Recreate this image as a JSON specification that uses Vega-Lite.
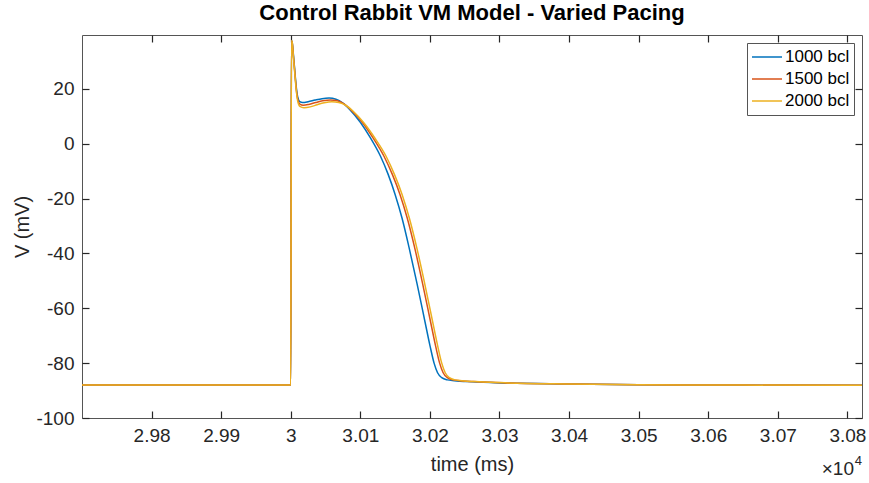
{
  "$schema": "https://vega.github.io/schema/vega-lite/v6.json",
  "width": 780,
  "height": 383,
  "autosize": {"type": "none"},
  "padding": {"left": 82, "top": 35, "right": 7, "bottom": 65},
  "background": "white",
  "config": {
    "font": "Liberation Sans",
    "view": {"stroke": "#555555", "strokeWidth": 1},
    "axis": {
      "grid": false,
      "domain": false,
      "ticks": true,
      "offset": -7,
      "tickColor": "#262626",
      "tickWidth": 1.2,
      "tickSize": 7,
      "labelPadding": 8,
      "labelColor": "#262626",
      "labelFontSize": 19,
      "titleColor": "#262626",
      "titleFontSize": 20,
      "titleFontWeight": "normal"
    }
  },
  "title": {
    "text": "Control Rabbit VM Model - Varied Pacing",
    "fontSize": 22,
    "fontWeight": "bold",
    "color": "#000000",
    "anchor": "middle",
    "offset": 9
  },
  "layer": [
    {
      "data": {
        "values": [
          {"t": 29700, "v": -88.0, "bcl": "1000 bcl"},
          {"t": 29850, "v": -88.0, "bcl": "1000 bcl"},
          {"t": 30000, "v": -88.0, "bcl": "1000 bcl"},
          {"t": 30001, "v": 37.5, "bcl": "1000 bcl"},
          {"t": 30002, "v": 37.0, "bcl": "1000 bcl"},
          {"t": 30004, "v": 32.0, "bcl": "1000 bcl"},
          {"t": 30006, "v": 26.0, "bcl": "1000 bcl"},
          {"t": 30008, "v": 20.5, "bcl": "1000 bcl"},
          {"t": 30010, "v": 17.0, "bcl": "1000 bcl"},
          {"t": 30013, "v": 15.3, "bcl": "1000 bcl"},
          {"t": 30017, "v": 15.0, "bcl": "1000 bcl"},
          {"t": 30025, "v": 15.3, "bcl": "1000 bcl"},
          {"t": 30035, "v": 15.9, "bcl": "1000 bcl"},
          {"t": 30045, "v": 16.4, "bcl": "1000 bcl"},
          {"t": 30055, "v": 16.6, "bcl": "1000 bcl"},
          {"t": 30065, "v": 16.2, "bcl": "1000 bcl"},
          {"t": 30075, "v": 14.8, "bcl": "1000 bcl"},
          {"t": 30085, "v": 12.4, "bcl": "1000 bcl"},
          {"t": 30100, "v": 7.8, "bcl": "1000 bcl"},
          {"t": 30115, "v": 1.9, "bcl": "1000 bcl"},
          {"t": 30129, "v": -4.6, "bcl": "1000 bcl"},
          {"t": 30140, "v": -11.2, "bcl": "1000 bcl"},
          {"t": 30150, "v": -18.5, "bcl": "1000 bcl"},
          {"t": 30160, "v": -27.2, "bcl": "1000 bcl"},
          {"t": 30170, "v": -37.8, "bcl": "1000 bcl"},
          {"t": 30181.5, "v": -51.0, "bcl": "1000 bcl"},
          {"t": 30193, "v": -65.0, "bcl": "1000 bcl"},
          {"t": 30200, "v": -73.5, "bcl": "1000 bcl"},
          {"t": 30206, "v": -80.0, "bcl": "1000 bcl"},
          {"t": 30211, "v": -83.5, "bcl": "1000 bcl"},
          {"t": 30217, "v": -85.3, "bcl": "1000 bcl"},
          {"t": 30225, "v": -86.1, "bcl": "1000 bcl"},
          {"t": 30235, "v": -86.4, "bcl": "1000 bcl"},
          {"t": 30260, "v": -86.8, "bcl": "1000 bcl"},
          {"t": 30300, "v": -87.2, "bcl": "1000 bcl"},
          {"t": 30400, "v": -87.6, "bcl": "1000 bcl"},
          {"t": 30500, "v": -87.9, "bcl": "1000 bcl"},
          {"t": 30650, "v": -88.0, "bcl": "1000 bcl"},
          {"t": 30821, "v": -88.1, "bcl": "1000 bcl"},

          {"t": 29700, "v": -88.0, "bcl": "1500 bcl"},
          {"t": 29850, "v": -88.0, "bcl": "1500 bcl"},
          {"t": 30000, "v": -88.0, "bcl": "1500 bcl"},
          {"t": 30001, "v": 37.5, "bcl": "1500 bcl"},
          {"t": 30002, "v": 37.0, "bcl": "1500 bcl"},
          {"t": 30004, "v": 31.5, "bcl": "1500 bcl"},
          {"t": 30006, "v": 25.5, "bcl": "1500 bcl"},
          {"t": 30008, "v": 19.8, "bcl": "1500 bcl"},
          {"t": 30010, "v": 16.2, "bcl": "1500 bcl"},
          {"t": 30013, "v": 14.4, "bcl": "1500 bcl"},
          {"t": 30018, "v": 14.0, "bcl": "1500 bcl"},
          {"t": 30026, "v": 14.3, "bcl": "1500 bcl"},
          {"t": 30036, "v": 15.0, "bcl": "1500 bcl"},
          {"t": 30046, "v": 15.6, "bcl": "1500 bcl"},
          {"t": 30057, "v": 15.9, "bcl": "1500 bcl"},
          {"t": 30067, "v": 15.6, "bcl": "1500 bcl"},
          {"t": 30077, "v": 14.4, "bcl": "1500 bcl"},
          {"t": 30087, "v": 12.2, "bcl": "1500 bcl"},
          {"t": 30103, "v": 7.7, "bcl": "1500 bcl"},
          {"t": 30119, "v": 1.8, "bcl": "1500 bcl"},
          {"t": 30134, "v": -4.6, "bcl": "1500 bcl"},
          {"t": 30146, "v": -11.2, "bcl": "1500 bcl"},
          {"t": 30157, "v": -18.5, "bcl": "1500 bcl"},
          {"t": 30167.5, "v": -27.2, "bcl": "1500 bcl"},
          {"t": 30178, "v": -37.8, "bcl": "1500 bcl"},
          {"t": 30189.5, "v": -51.0, "bcl": "1500 bcl"},
          {"t": 30201, "v": -65.0, "bcl": "1500 bcl"},
          {"t": 30208, "v": -73.5, "bcl": "1500 bcl"},
          {"t": 30214, "v": -80.0, "bcl": "1500 bcl"},
          {"t": 30219, "v": -83.5, "bcl": "1500 bcl"},
          {"t": 30225, "v": -85.3, "bcl": "1500 bcl"},
          {"t": 30233, "v": -86.1, "bcl": "1500 bcl"},
          {"t": 30243, "v": -86.4, "bcl": "1500 bcl"},
          {"t": 30268, "v": -86.8, "bcl": "1500 bcl"},
          {"t": 30308, "v": -87.2, "bcl": "1500 bcl"},
          {"t": 30400, "v": -87.6, "bcl": "1500 bcl"},
          {"t": 30500, "v": -87.9, "bcl": "1500 bcl"},
          {"t": 30650, "v": -88.0, "bcl": "1500 bcl"},
          {"t": 30821, "v": -88.1, "bcl": "1500 bcl"},

          {"t": 29700, "v": -88.0, "bcl": "2000 bcl"},
          {"t": 29850, "v": -88.0, "bcl": "2000 bcl"},
          {"t": 30000, "v": -88.0, "bcl": "2000 bcl"},
          {"t": 30001, "v": 37.6, "bcl": "2000 bcl"},
          {"t": 30002, "v": 37.1, "bcl": "2000 bcl"},
          {"t": 30004, "v": 31.0, "bcl": "2000 bcl"},
          {"t": 30006, "v": 25.0, "bcl": "2000 bcl"},
          {"t": 30008, "v": 19.2, "bcl": "2000 bcl"},
          {"t": 30010, "v": 15.5, "bcl": "2000 bcl"},
          {"t": 30013, "v": 13.6, "bcl": "2000 bcl"},
          {"t": 30019, "v": 13.1, "bcl": "2000 bcl"},
          {"t": 30028, "v": 13.4, "bcl": "2000 bcl"},
          {"t": 30038, "v": 14.2, "bcl": "2000 bcl"},
          {"t": 30048, "v": 14.9, "bcl": "2000 bcl"},
          {"t": 30059, "v": 15.3, "bcl": "2000 bcl"},
          {"t": 30069, "v": 15.0, "bcl": "2000 bcl"},
          {"t": 30079, "v": 14.0, "bcl": "2000 bcl"},
          {"t": 30089, "v": 12.0, "bcl": "2000 bcl"},
          {"t": 30105, "v": 7.6, "bcl": "2000 bcl"},
          {"t": 30122, "v": 1.6, "bcl": "2000 bcl"},
          {"t": 30137, "v": -4.6, "bcl": "2000 bcl"},
          {"t": 30149, "v": -11.2, "bcl": "2000 bcl"},
          {"t": 30160, "v": -18.5, "bcl": "2000 bcl"},
          {"t": 30170.5, "v": -27.2, "bcl": "2000 bcl"},
          {"t": 30181, "v": -37.8, "bcl": "2000 bcl"},
          {"t": 30192.5, "v": -51.0, "bcl": "2000 bcl"},
          {"t": 30204, "v": -65.0, "bcl": "2000 bcl"},
          {"t": 30211, "v": -73.5, "bcl": "2000 bcl"},
          {"t": 30217, "v": -80.0, "bcl": "2000 bcl"},
          {"t": 30222, "v": -83.5, "bcl": "2000 bcl"},
          {"t": 30228, "v": -85.3, "bcl": "2000 bcl"},
          {"t": 30236, "v": -86.1, "bcl": "2000 bcl"},
          {"t": 30246, "v": -86.4, "bcl": "2000 bcl"},
          {"t": 30271, "v": -86.8, "bcl": "2000 bcl"},
          {"t": 30311, "v": -87.2, "bcl": "2000 bcl"},
          {"t": 30400, "v": -87.6, "bcl": "2000 bcl"},
          {"t": 30500, "v": -87.9, "bcl": "2000 bcl"},
          {"t": 30650, "v": -88.0, "bcl": "2000 bcl"},
          {"t": 30821, "v": -88.1, "bcl": "2000 bcl"}
        ]
      },
      "mark": {"type": "line", "strokeWidth": 1.5, "interpolate": "monotone", "clip": true},
      "encoding": {
        "x": {
          "field": "t",
          "type": "quantitative",
          "scale": {"domain": [29700, 30821], "nice": false, "zero": false},
          "axis": {
            "orient": "bottom",
            "values": [29800, 29900, 30000, 30100, 30200, 30300, 30400, 30500, 30600, 30700, 30800],
            "labelExpr": "format(datum.value / 10000, '~g')",
            "title": "time (ms)",
            "titlePadding": 9
          }
        },
        "y": {
          "field": "v",
          "type": "quantitative",
          "scale": {"domain": [-100, 39.6], "nice": false, "zero": false},
          "axis": {
            "orient": "left",
            "values": [-100, -80, -60, -40, -20, 0, 20],
            "labelExpr": "toString(datum.value)",
            "title": "V (mV)",
            "titlePadding": 3
          }
        },
        "color": {
          "field": "bcl",
          "type": "nominal",
          "scale": {
            "domain": ["1000 bcl", "1500 bcl", "2000 bcl"],
            "range": ["#0072BD", "#D95319", "#EDB120"]
          },
          "legend": {
            "title": null,
            "orient": "top-right",
            "offset": 8,
            "padding": 4,
            "strokeColor": "#555555",
            "fillColor": "#ffffff",
            "symbolType": "stroke",
            "symbolSize": 900,
            "symbolStrokeWidth": 1.5,
            "clipHeight": 20,
            "labelFontSize": 17,
            "labelColor": "#000000",
            "labelOffset": 2,
            "rowPadding": 2
          }
        }
      }
    },
    {
      "data": {"values": [{"note": "exponent"}]},
      "mark": {"type": "text", "text": "×10", "align": "right", "baseline": "alphabetic", "fontSize": 19, "fontWeight": "normal", "color": "#262626", "dx": -8, "dy": 57, "clip": false},
      "encoding": {
        "x": {
          "datum": 30821,
          "type": "quantitative",
          "axis": {
            "orient": "top",
            "values": [29800, 29900, 30000, 30100, 30200, 30300, 30400, 30500, 30600, 30700, 30800],
            "labels": false,
            "title": null
          }
        },
        "y": {
          "datum": -100,
          "type": "quantitative",
          "axis": {
            "orient": "right",
            "values": [-100, -80, -60, -40, -20, 0, 20],
            "labels": false,
            "title": null
          }
        }
      }
    },
    {
      "data": {"values": [{"note": "exponent"}]},
      "mark": {"type": "text", "text": "4", "align": "right", "baseline": "alphabetic", "fontSize": 13, "fontWeight": "normal", "color": "#262626", "dx": 0, "dy": 47, "clip": false},
      "encoding": {
        "x": {"datum": 30821, "type": "quantitative", "axis": null},
        "y": {"datum": -100, "type": "quantitative", "axis": null}
      }
    }
  ],
  "resolve": {"axis": {"x": "independent", "y": "independent"}}
}
